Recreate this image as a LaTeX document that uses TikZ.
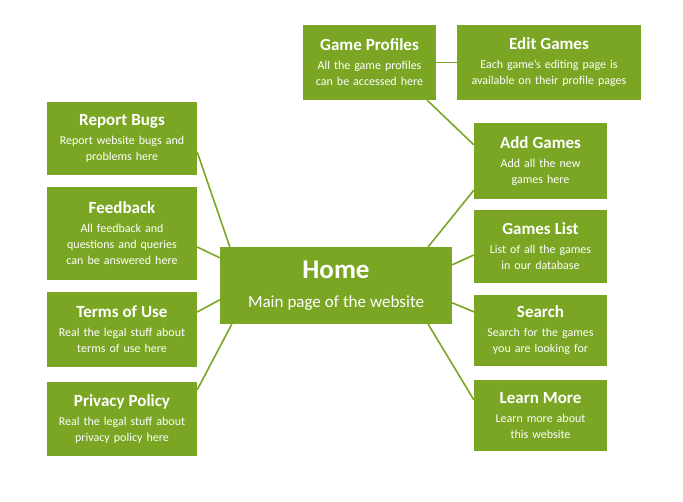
\documentclass[tikz,border=0pt]{standalone}
\usepackage{fontspec}
\setmainfont{Carlito}
\usetikzlibrary{calc}
\definecolor{leaf}{RGB}{122,166,36}
\tikzset{
  card/.style={fill=leaf, text=white, align=center, inner sep=0pt,
    font=\fontsize{12}{16}\selectfont},
  link/.style={draw=leaf, line width=1.6pt},
}
\newcommand{\cardtitle}[1]{{\fontsize{17}{19}\selectfont\bfseries #1}}
\begin{document}
\begin{tikzpicture}[x=1pt,y=-1pt]
\useasboundingbox (0,0) rectangle (683,502);

% central page
\node[card, minimum width=232pt, minimum height=77pt, text width=228pt] (home) at (336,285.5)
  {{\fontsize{27}{29}\selectfont\bfseries Home}\\[13pt]{\fontsize{17}{20}\selectfont Main page of the website}};

% top row
\node[card, minimum width=133pt, minimum height=75pt, text width=130pt] (gp) at (369.5,62.5)
  {\cardtitle{Game Profiles}\\[3pt]All the game profiles\\can be accessed here};
\node[card, minimum width=184pt, minimum height=75pt, text width=180pt] (eg) at (549,62.5)
  {\cardtitle{Edit Games}\\[3pt]Each game’s editing page is\\available on their profile pages};

% left column
\node[card, minimum width=150pt, minimum height=73pt, text width=146pt] (rb) at (122,138.5)
  {\cardtitle{Report Bugs}\\[3pt]Report website bugs and\\problems here};
\node[card, minimum width=150pt, minimum height=93pt, text width=146pt] (fb) at (122,233.5)
  {\cardtitle{Feedback}\\[3pt]All feedback and\\questions and queries\\can be answered here};
\node[card, minimum width=150pt, minimum height=75pt, text width=146pt] (tu) at (122,329.5)
  {\cardtitle{Terms of Use}\\[3pt]Real the legal stuff about\\terms of use here};
\node[card, minimum width=150pt, minimum height=74pt, text width=146pt] (pp) at (122,419)
  {\cardtitle{Privacy Policy}\\[3pt]Real the legal stuff about\\privacy policy here};

% right column
\node[card, minimum width=133pt, minimum height=76pt, text width=130pt] (ag) at (540.5,161)
  {\cardtitle{Add Games}\\[3pt]Add all the new\\games here};
\node[card, minimum width=133pt, minimum height=73pt, text width=130pt] (gl) at (540.5,246.5)
  {\cardtitle{Games List}\\[3pt]List of all the games\\in our database};
\node[card, minimum width=133pt, minimum height=71pt, text width=130pt] (se) at (540.5,330.5)
  {\cardtitle{Search}\\[3pt]Search for the games\\you are looking for};
\node[card, minimum width=133pt, minimum height=71pt, text width=130pt] (lm) at (540.5,415.5)
  {\cardtitle{Learn More}\\[3pt]Learn more about\\this website};

% connectors
\draw[link] (gp.east) -- (eg.west);
\draw[link] ($(gp.south east)+(-9,0)$) -- ($(ag.north west)+(0,22)$);
\draw[link] ($(rb.east)+(0,13.5)$) -- ($(home.north west)+(10,0)$);
\draw[link] ($(fb.east)+(0,13.5)$) -- ($(home.north west)+(0,11)$);
\draw[link] ($(tu.east)+(0,-17.5)$) -- ($(home.north west)+(0,53)$);
\draw[link] ($(pp.north east)+(0,8)$) -- ($(home.south west)+(12,0)$);
\draw[link] ($(ag.south west)+(0,-9)$) -- ($(home.north east)+(-24,0)$);
\draw[link] ($(gl.west)+(0,8.5)$) -- ($(home.north east)+(0,18)$);
\draw[link] ($(home.north east)+(0,56)$) -- ($(se.north west)+(0,17)$);
\draw[link] ($(home.south east)+(-24,0)$) -- ($(lm.north west)+(0,20)$);
\end{tikzpicture}
\end{document}
